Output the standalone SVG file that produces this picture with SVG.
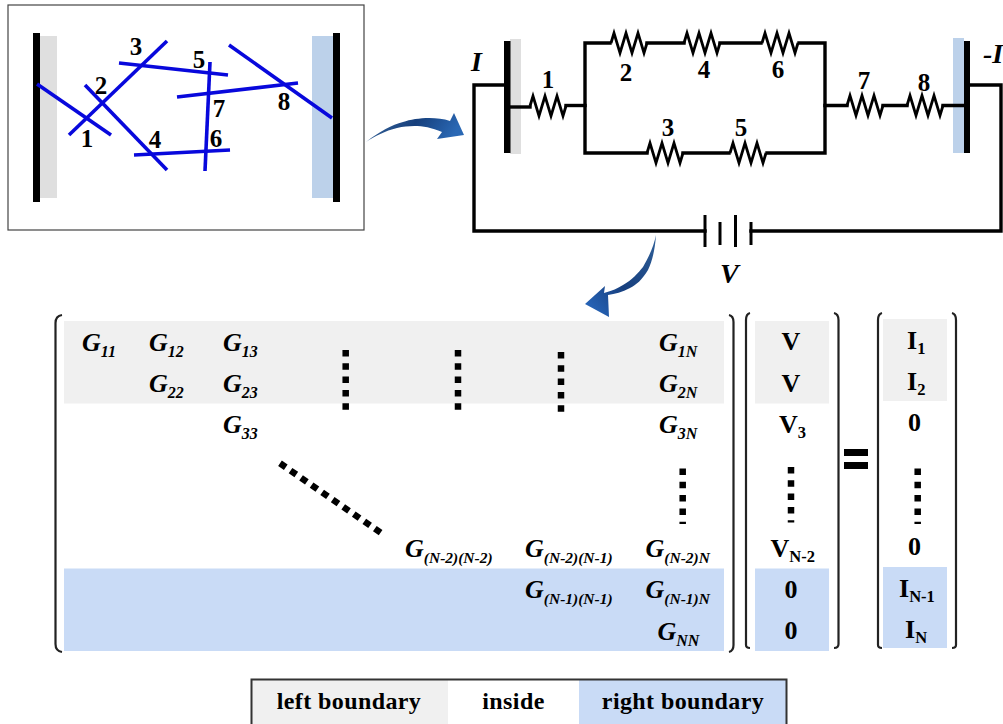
<svg xmlns="http://www.w3.org/2000/svg" width="1003" height="724" viewBox="0 0 1003 724">
<style>
text{font-family:"Liberation Serif","Times New Roman",serif;font-weight:bold;fill:#000}
.n{font-size:25px;text-anchor:middle}
.g{font-size:26px;font-style:italic}
.g tspan{font-size:16px}
.g tspan.l{font-size:15.500px}
.b{font-size:26px}
.b tspan{font-size:16.500px}
.c{text-anchor:middle}
.ii{font-size:28px;font-style:italic}
.leg{font-size:24px;text-anchor:middle;letter-spacing:.4px}
.w{fill:none;stroke:#000;stroke-width:3.400;stroke-linejoin:miter;stroke-linecap:square}
.r{fill:none;stroke:#000;stroke-width:2.800;stroke-linejoin:miter}
.bat{stroke:#000;stroke-width:3}
.fib{stroke:#0808dc;stroke-width:3.600;stroke-linecap:butt}
.br{fill:none;stroke:#222;stroke-width:2.200}
.dots{fill:none;stroke:#000;stroke-width:6.500}
.lg{fill:#f0f0f0}.lb{fill:#c9dbf6}
</style>
<defs>
<path id="res" d="M0 0L3 -10L9 10L15 -10L21 10L27 -10L33 10L36 0"/>
<linearGradient id="sw1" x1="0" y1="0" x2="1" y2="0.200"><stop offset="0" stop-color="#3c6a9e"/><stop offset=".55" stop-color="#163f7c"/><stop offset="1" stop-color="#2a68b4"/></linearGradient>
<linearGradient id="sw2" x1="1" y1="0" x2="0" y2="1"><stop offset="0" stop-color="#2f5f98"/><stop offset=".55" stop-color="#173f7e"/><stop offset="1" stop-color="#2a6cc4"/></linearGradient>
</defs>

<g id="network-panel">
<rect x="8" y="5" width="356" height="225" fill="#fff" stroke="#444" stroke-width="1.200"/>
<rect x="40" y="36" width="17" height="162" fill="#dfdfdf"/>
<rect x="33" y="33" width="7" height="169" fill="#000"/>
<rect x="312" y="36" width="21" height="162" fill="#bcd1ea"/>
<rect x="333" y="33" width="7" height="169" fill="#000"/>
<g id="fibres">
<line class="fib" x1="37" y1="84" x2="111" y2="135"/>
<line class="fib" x1="69" y1="135" x2="167" y2="41"/>
<line class="fib" x1="85" y1="85" x2="167" y2="170"/>
<line class="fib" x1="119" y1="63" x2="228" y2="75"/>
<line class="fib" x1="210" y1="62" x2="205" y2="171"/>
<line class="fib" x1="177" y1="97" x2="298" y2="83"/>
<line class="fib" x1="229" y1="45" x2="332" y2="118"/>
<line class="fib" x1="134" y1="155" x2="230" y2="150"/>
</g>
<text class="n" x="87" y="147">1</text>
<text class="n" x="101" y="94">2</text>
<text class="n" x="136" y="55">3</text>
<text class="n" x="155" y="148">4</text>
<text class="n" x="199" y="68">5</text>
<text class="n" x="216" y="147">6</text>
<text class="n" x="219" y="117">7</text>
<text class="n" x="284" y="110">8</text>
</g>

<g id="arrow-1"><path d="M366 142C380 131 392 125 403 122C415 118 435 116 450 121L454 113L464 135L437 139L442 132C425 125 412 125 397 128C385 131 375 136 366 142Z" fill="url(#sw1)"/></g>
<g id="arrow-2"><path d="M656 235C655 250 652 262 648 270C642 280 636 285 630 288C622 292 615 294 608 295L609 317L585 304L605 286L604 293C612 291 618 288 623 285C632 280 638 273 643 267C650 255 654 245 656 235Z" fill="url(#sw2)"/></g>

<g id="electrodes">
<rect x="510" y="39" width="11" height="115" fill="#dfdfdf"/>
<rect x="504" y="41" width="6.500" height="112" fill="#000"/>
<rect x="953" y="38" width="11" height="115" fill="#bcd1ea"/>
<rect x="964" y="41" width="6" height="112" fill="#000"/>
</g>

<g id="connectors">
<path class="w" d="M504 85H474V231H705"/>
<path class="w" d="M751 231H1001V85H970"/>
<path class="w" d="M510 107H530"/>
<path class="w" d="M566 105.500H585"/>
<path class="w" d="M610 43H585V153H647"/>
<path class="w" d="M647 43H684M720 43H761"/>
<path class="w" d="M799 43H825V153H767"/>
<path class="w" d="M683 153H729"/>
<path class="w" d="M825 105.500H847M883 105.500H907M943 105.500H963"/>
</g>

<g id="R1"><use href="#res" class="r" x="530" y="106"/><text class="n" x="548" y="88">1</text></g>
<g id="R2"><use href="#res" class="r" x="611" y="43"/><text class="n" x="626" y="81">2</text></g>
<g id="R4"><use href="#res" class="r" x="684" y="43"/><text class="n" x="704" y="78">4</text></g>
<g id="R6"><use href="#res" class="r" x="762" y="43"/><text class="n" x="778" y="78">6</text></g>
<g id="R3"><use href="#res" class="r" x="647" y="153"/><text class="n" x="668" y="136">3</text></g>
<g id="R5"><use href="#res" class="r" x="730" y="153"/><text class="n" x="741" y="136">5</text></g>
<g id="R7"><use href="#res" class="r" x="847" y="105.500"/><text class="n" x="864" y="89">7</text></g>
<g id="R8"><use href="#res" class="r" x="907" y="105.500"/><text class="n" x="924" y="91">8</text></g>

<g id="battery">
<line class="bat" x1="705" y1="215" x2="705" y2="247"/>
<line class="bat" x1="720" y1="222" x2="720" y2="245"/>
<line class="bat" x1="735.500" y1="215" x2="735.500" y2="247"/>
<line class="bat" x1="751" y1="222" x2="751" y2="245"/>
<text class="ii" x="720" y="283">V</text>
</g>
<text id="label-I" class="ii" x="471" y="71">I</text>
<text id="label-minus-I" class="ii" x="983" y="63">-I</text>

<g id="bands">
<rect class="lg" x="64" y="321" width="660" height="82.500"/>
<rect class="lb" x="64" y="568.500" width="660" height="82.500"/>
<rect class="lg" x="755" y="321" width="74" height="82.500"/>
<rect class="lb" x="755" y="568.500" width="74" height="82.500"/>
<rect class="lg" x="883" y="319" width="64" height="82"/>
<rect class="lb" x="883" y="567" width="64" height="81"/>
</g>

<g id="brackets">
<path class="br" d="M62 315Q55.500 316 55.500 323V644Q55.500 651 62 652"/>
<path class="br" d="M729 315Q733.500 316 733.500 322V645Q733.500 651 729 652"/>
<path class="br" d="M750 313Q746 314 746 320V645Q746 648 750 648"/>
<path class="br" d="M834 313Q838.500 314 838.500 320V644Q838.500 648 834 648"/>
<path class="br" d="M882 313Q878 314 878 320V645Q878 648 882 648"/>
<path class="br" d="M952 313Q956 314 956 320V645Q956 648 952 648"/>
</g>

<g id="matrix-G">
<text class="g" x="82" y="351">G<tspan dy="6">11</tspan></text>
<text class="g" x="149" y="351">G<tspan dy="6">12</tspan></text>
<text class="g" x="223" y="351">G<tspan dy="6">13</tspan></text>
<text class="g" x="659" y="351">G<tspan dy="6">1N</tspan></text>
<text class="g" x="149" y="392">G<tspan dy="6">22</tspan></text>
<text class="g" x="223" y="392">G<tspan dy="6">23</tspan></text>
<text class="g" x="659" y="392">G<tspan dy="6">2N</tspan></text>
<text class="g" x="223" y="433">G<tspan dy="6">33</tspan></text>
<text class="g" x="659" y="433">G<tspan dy="6">3N</tspan></text>
<text class="g" x="405" y="556.500">G<tspan class="l" dy="6">(N-2)(N-2)</tspan></text>
<text class="g" x="525" y="556.500">G<tspan class="l" dy="6">(N-2)(N-1)</tspan></text>
<text class="g" x="645.500" y="556.500">G<tspan class="l" dy="6">(N-2)N</tspan></text>
<text class="g" x="525" y="597.500">G<tspan class="l" dy="6">(N-1)(N-1)</tspan></text>
<text class="g" x="645.500" y="597.500">G<tspan class="l" dy="6">(N-1)N</tspan></text>
<text class="g" x="657.500" y="640">G<tspan dy="6">NN</tspan></text>
<line class="dots" x1="345.700" y1="350" x2="345.700" y2="411" stroke-dasharray="6.500 6.800"/>
<line class="dots" x1="458" y1="350" x2="458" y2="411" stroke-dasharray="6.500 6.800"/>
<line class="dots" x1="561" y1="352" x2="561" y2="413" stroke-dasharray="6.500 6.800"/>
<line class="dots" x1="682.700" y1="468.500" x2="682.700" y2="524" stroke-dasharray="6.500 6.800"/>
<line class="dots" x1="280" y1="463.300" x2="384" y2="535" stroke-dasharray="7 5.800"/>
</g>

<g id="vector-V">
<text class="b c" x="791" y="350">V</text>
<text class="b c" x="791" y="391.500">V</text>
<text class="b" x="779" y="433">V<tspan dy="5">3</tspan></text>
<text class="b" x="770.500" y="556.500">V<tspan dy="5">N-2</tspan></text>
<text class="b c" x="791" y="598">0</text>
<text class="b c" x="791" y="639">0</text>
<line class="dots" x1="791" y1="467" x2="791" y2="522.500" stroke-dasharray="6.500 6.800"/>
</g>

<g id="equals"><rect x="844" y="449" width="24" height="7"/><rect x="844" y="462" width="24" height="7"/></g>

<g id="vector-I">
<text class="b" x="907" y="349">I<tspan dy="5">1</tspan></text>
<text class="b" x="907" y="390">I<tspan dy="5">2</tspan></text>
<text class="b c" x="914.500" y="431">0</text>
<text class="b c" x="914.500" y="555">0</text>
<text class="b" x="899" y="596.500">I<tspan dy="5">N-1</tspan></text>
<text class="b" x="905" y="638">I<tspan dy="5">N</tspan></text>
<line class="dots" x1="917.700" y1="468.500" x2="917.700" y2="524" stroke-dasharray="6.500 6.800"/>
</g>

<g id="legend">
<rect class="lg" x="252" y="680" width="196" height="46"/>
<rect x="448" y="680" width="131" height="46" fill="#fff"/>
<rect class="lb" x="579" y="680" width="207" height="46"/>
<rect x="251.500" y="679.500" width="535" height="50" fill="none" stroke="#333" stroke-width="2"/>
<text class="leg" x="349" y="709">left boundary</text>
<text class="leg" x="513.500" y="709">inside</text>
<text class="leg" x="683" y="709">right boundary</text>
</g>
</svg>
